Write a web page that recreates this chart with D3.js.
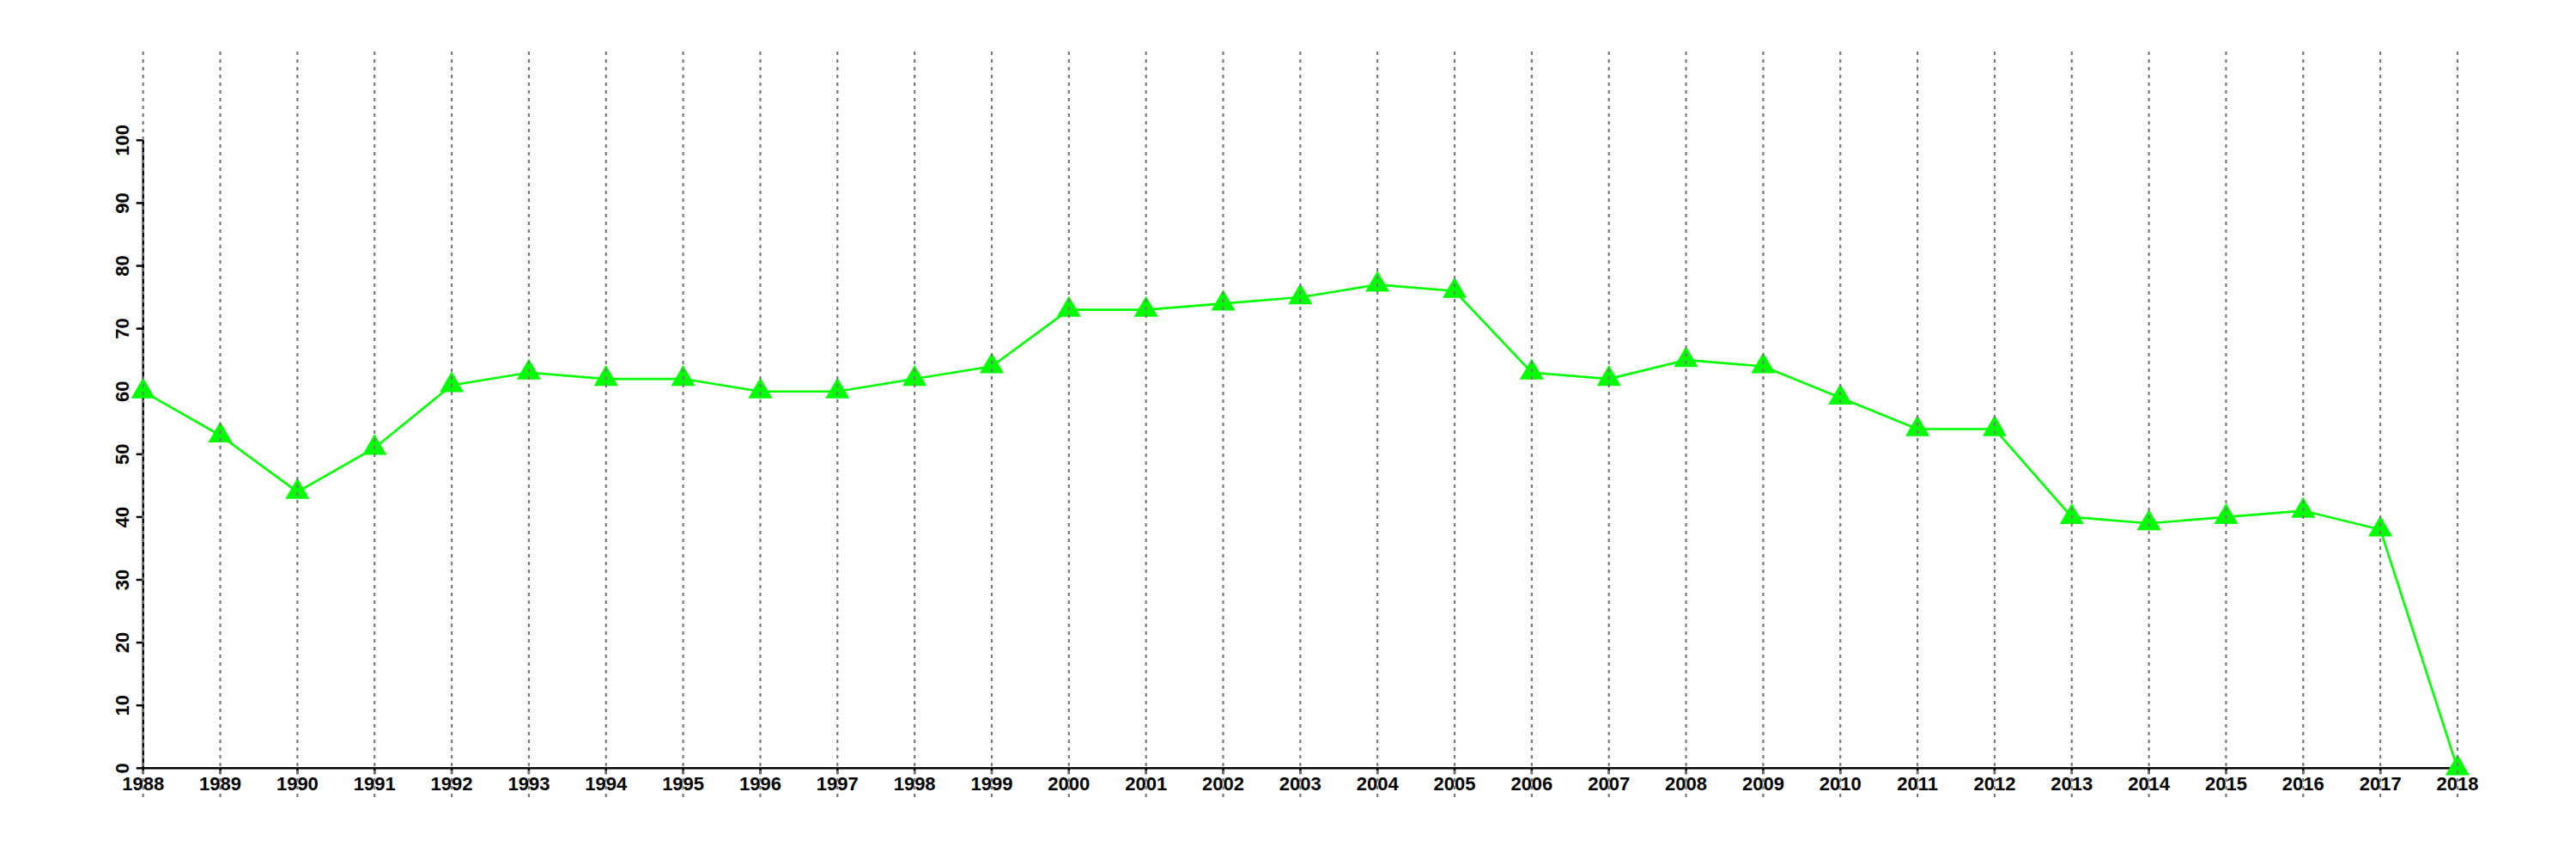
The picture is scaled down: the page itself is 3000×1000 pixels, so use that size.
<!DOCTYPE html>
<html>
<head>
<meta charset="utf-8">
<script src="https://cdn.jsdelivr.net/npm/d3@7"></script>
<style>
  html, body { margin: 0; padding: 0; background: #fff; }
  text { font-family: "Liberation Sans", Arial, Helvetica, sans-serif; font-weight: bold; }
</style>
</head>
<body>
<svg id="chart" width="3000" height="1000"></svg>
<script>
const years = [1988,1989,1990,1991,1992,1993,1994,1995,1996,1997,1998,1999,2000,2001,2002,2003,2004,2005,2006,2007,2008,2009,2010,2011,2012,2013,2014,2015,2016,2017,2018];
const values = [60,53,44,51,61,63,62,62,60,60,62,64,73,73,74,75,77,76,63,62,65,64,59,54,54,40,39,40,41,38,0];
const yTicks = [0,10,20,30,40,50,60,70,80,90,100];

const svg = d3.select("#chart");
svg.append("rect").attr("width", 3000).attr("height", 1000).attr("fill", "#fff");

const x = d3.scaleLinear().domain([1988, 2018]).range([166.7, 2862]);
const y = d3.scaleLinear().domain([0, 100]).range([894.3, 163.3]);

// y axis
const ya = svg.append("g");
ya.append("line").attr("x1", x(1988)).attr("x2", x(1988))
  .attr("y1", y(0)).attr("y2", y(100)).attr("stroke", "#000").attr("stroke-width", 2.5);
ya.selectAll("line.t").data(yTicks).enter().append("line").attr("class", "t")
  .attr("x1", x(1988) - 8).attr("x2", x(1988))
  .attr("y1", d => y(d)).attr("y2", d => y(d)).attr("stroke", "#000").attr("stroke-width", 2.5);
ya.selectAll("text").data(yTicks).enter().append("text")
  .attr("transform", d => `translate(150,${y(d)}) rotate(-90)`)
  .attr("text-anchor", "middle").attr("font-size", 22).attr("fill", "#000")
  .text(d => d);

// x axis
const xa = svg.append("g");
xa.append("line").attr("x1", x(1988)).attr("x2", x(2018))
  .attr("y1", y(0)).attr("y2", y(0)).attr("stroke", "#000").attr("stroke-width", 2.5);
xa.selectAll("line.t").data(years).enter().append("line").attr("class", "t")
  .attr("x1", d => x(d)).attr("x2", d => x(d))
  .attr("y1", y(0)).attr("y2", y(0) + 7).attr("stroke", "#000").attr("stroke-width", 2.5);
xa.selectAll("text").data(years).enter().append("text")
  .attr("x", d => x(d)).attr("y", 919.5)
  .attr("text-anchor", "middle").attr("font-size", 22).attr("fill", "#000")
  .text(d => d);

// line
const line = d3.line().x((d, i) => x(years[i])).y(d => y(d));
svg.append("path").datum(values).attr("d", line)
  .attr("fill", "none").attr("stroke", "#00ff00").attr("stroke-width", 2.6);

// triangles (R pch 17 geometry)
const r = 16.2;
const tri = `M0,${-r} L${r*0.866},${r/2} L${-r*0.866},${r/2} Z`;
svg.selectAll("path.pt").data(values).enter().append("path").attr("class", "pt")
  .attr("transform", (d, i) => `translate(${x(years[i])},${y(d)})`)
  .attr("d", tri).attr("fill", "#00ff00");

// dashed vertical grid
svg.selectAll("line.grid").data(years).enter().append("line").attr("class", "grid")
  .attr("x1", d => x(d)).attr("x2", d => x(d))
  .attr("y1", 60).attr("y2", 928)
  .attr("stroke", "#7a7a7a").attr("stroke-width", 2.2)
  .attr("stroke-dasharray", "4,5");
</script>
</body>
</html>
